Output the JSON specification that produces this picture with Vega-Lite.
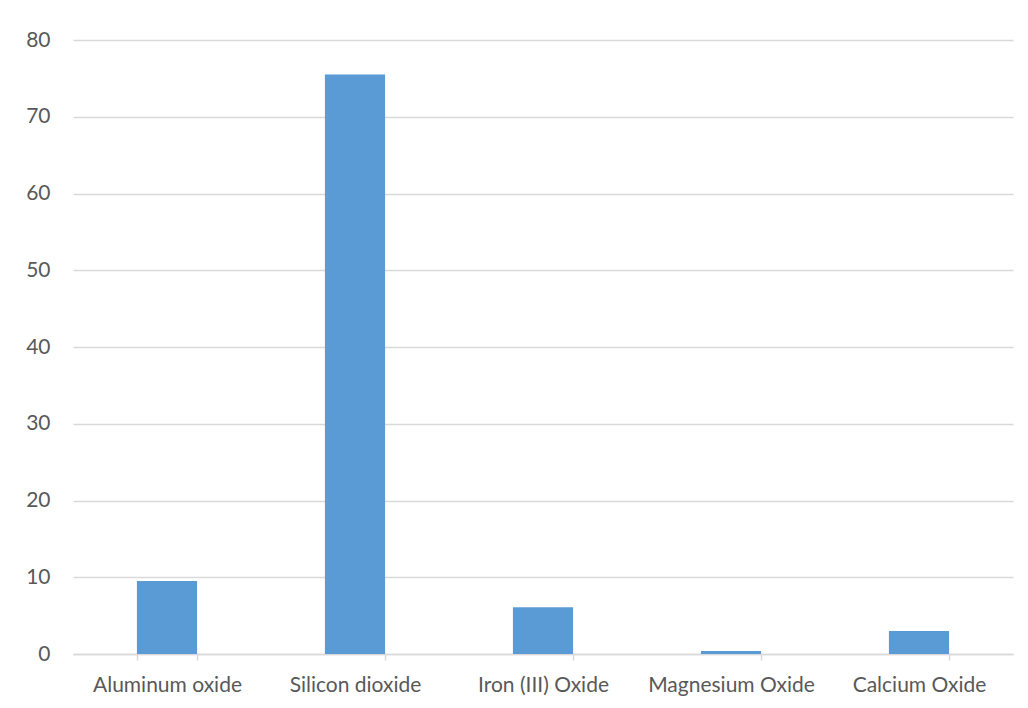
{
  "$schema": "https://vega.github.io/schema/vega-lite/v6.json",
  "width": 940,
  "height": 614,
  "autosize": {"type": "none"},
  "padding": {"left": 73, "top": 40, "right": 15, "bottom": 54},
  "background": "white",
  "data": {
    "values": [
      {"oxide": "Aluminum oxide", "value": 9.5},
      {"oxide": "Silicon dioxide", "value": 75.5},
      {"oxide": "Iron (III) Oxide", "value": 6.1},
      {"oxide": "Magnesium Oxide", "value": 0.4},
      {"oxide": "Calcium Oxide", "value": 3.0}
    ]
  },
  "mark": {"type": "bar", "color": "#5b9bd5"},
  "encoding": {
    "x": {
      "field": "oxide",
      "type": "nominal",
      "sort": null,
      "scale": {"paddingInner": 0.68, "paddingOuter": 0.34},
      "axis": {
        "title": null,
        "labelAngle": 0,
        "labelFont": "Lato",
        "labelFontSize": 21,
        "labelColor": "#595959",
        "labelPadding": 14,
        "domainColor": "#d9d9d9",
        "domainWidth": 1.5,
        "tickBand": "extent",
        "tickColor": "#d9d9d9",
        "tickWidth": 1.5,
        "tickSize": 6,
        "grid": false
      }
    },
    "y": {
      "field": "value",
      "type": "quantitative",
      "scale": {"domain": [0, 80], "nice": false},
      "axis": {
        "title": null,
        "values": [0, 10, 20, 30, 40, 50, 60, 70, 80],
        "labelFont": "Lato",
        "labelFontSize": 21,
        "labelColor": "#595959",
        "labelPadding": 23,
        "ticks": false,
        "domain": false,
        "gridColor": "#d9d9d9",
        "gridWidth": 1.5
      }
    }
  },
  "config": {"view": {"stroke": null}}
}
